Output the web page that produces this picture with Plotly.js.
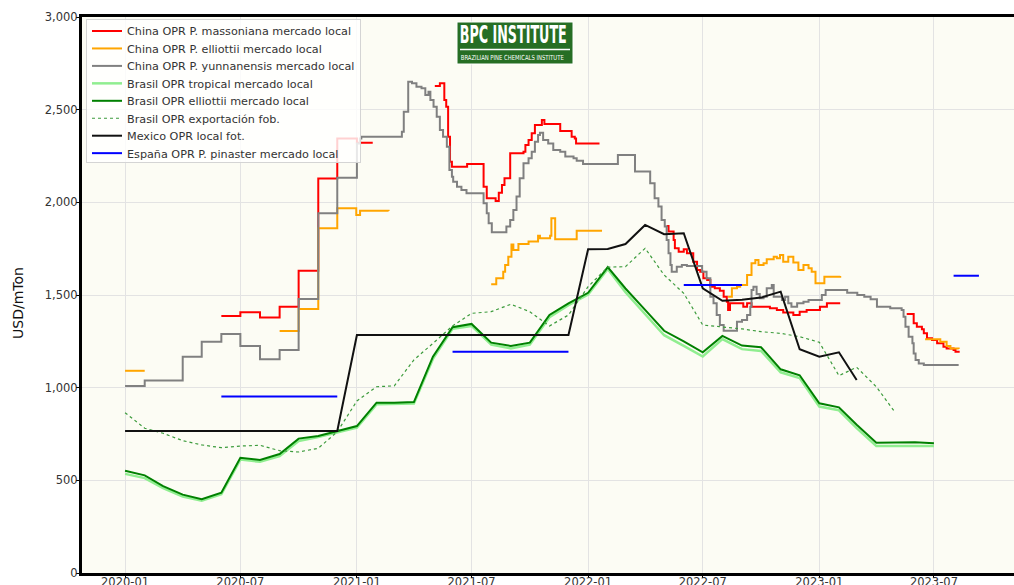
<!DOCTYPE html>
<html>
<head>
<meta charset="utf-8">
<script src="https://cdn.plot.ly/plotly-3.0.1.min.js"></script>
<style>
html,body{margin:0;padding:0;overflow:hidden;background:#fff;}
#chart{width:1022px;height:585px;}
</style>
</head>
<body>
<div id="chart"></div>
<script>
// ---------- DATA ----------
const brMonths = [
 '2020-01-01','2020-02-01','2020-03-01','2020-04-01','2020-05-01','2020-06-01','2020-07-01','2020-08-01','2020-09-01','2020-10-01','2020-11-01','2020-12-01',
 '2021-01-01','2021-02-01','2021-03-01','2021-04-01','2021-05-01','2021-06-01','2021-07-01','2021-08-01','2021-09-01','2021-10-01','2021-11-01','2021-12-01',
 '2022-01-01','2022-02-01','2022-03-01','2022-04-01','2022-05-01','2022-06-01','2022-07-01','2022-08-01','2022-09-01','2022-10-01','2022-11-01','2022-12-01',
 '2023-01-01','2023-02-01','2023-03-01','2023-04-01','2023-05-01','2023-06-01','2023-07-01'];

const brasilTropical = [535,512,458,413,390,425,612,600,630,712,733,760,
 785,910,910,914,1155,1318,1333,1232,1212,1232,1380,1445,
 1502,1640,1515,1395,1283,1225,1168,1262,1208,1198,1083,1052,
 898,878,782,685,685,685,685];

const brasilElliottii = [552,527,469,423,398,433,622,610,642,725,739,766,
 793,919,918,922,1167,1326,1344,1243,1225,1243,1392,1455,
 1512,1650,1535,1420,1307,1250,1191,1279,1227,1218,1099,1067,
 916,894,800,703,703,705,700];

const exportMonths = brMonths.slice(0, 41);
const brasilExport = [865,781,754,714,691,676,685,689,660,653,673,762,
 928,1005,1010,1150,1239,1333,1401,1410,1450,1410,1333,1392,
 1545,1650,1653,1752,1608,1509,1338,1329,1317,1302,1293,1275,
 1245,1065,1110,1005,865];

const mexicoDates = ['2020-01-01','2020-12-01','2021-01-01','2021-12-01','2022-01-01','2022-02-01','2022-03-01','2022-04-01','2022-05-01','2022-06-01','2022-07-01','2022-08-01','2022-09-01','2022-10-01','2022-11-01','2022-12-01','2023-01-01','2023-02-01','2023-03-01'];
const mexicoValues = [766,766,1284,1284,1747,1748,1775,1878,1828,1833,1536,1469,1475,1486,1518,1207,1167,1191,1041];

const espanaDates = ['2020-06-01','2020-12-01','2021-03-01','2021-06-01','2021-12-01','2022-03-01','2022-06-01','2022-09-01','2023-01-01','2023-08-01','2023-09-10'];
const espanaValues = [953,953,null,1194,1194,null,1554,1554,null,1604,1604];

const massonianaDates = ['2020-06-01','2020-07-01','2020-08-01','2020-09-01','2020-10-01','2020-11-01','2020-12-01','2021-01-01','2021-01-26','2021-03-01',
 '2021-05-04','2021-05-12','2021-05-19','2021-05-22','2021-05-25','2021-05-28','2021-05-31','2021-06-24','2021-07-20','2021-07-25','2021-08-08','2021-08-13','2021-08-18','2021-08-22','2021-08-31','2021-09-21','2021-09-24','2021-09-29','2021-10-04','2021-10-09','2021-10-20','2021-10-24','2021-11-18','2021-12-06','2021-12-11','2021-12-13','2022-01-19','2022-03-01',
 '2022-05-05','2022-05-08','2022-05-16','2022-05-18','2022-05-24','2022-06-01','2022-06-06','2022-06-16','2022-06-22','2022-06-27','2022-07-02','2022-07-08','2022-07-13','2022-07-20','2022-07-28','2022-08-03','2022-08-08','2022-08-10','2022-08-13','2022-09-03','2022-09-09','2022-09-16','2022-10-15','2022-10-26','2022-11-05','2022-11-21','2022-12-01','2022-12-12','2023-01-02','2023-01-13','2023-02-03','2023-04-01',
 '2023-05-19','2023-05-30','2023-06-04','2023-06-12','2023-06-15','2023-06-20','2023-06-28','2023-07-06','2023-07-16','2023-07-21','2023-08-01','2023-08-04','2023-08-09'];
const massonianaValues = [1387,1407,1378,1437,1631,2128,2345,2322,2322,null,
 2628,2642,2552,2516,2354,2219,2192,2207,2084,2022,2007,2052,2094,2130,2265,2273,2310,2336,2373,2417,2444,2423,2385,2354,2345,2318,2318,null,
 1872,1842,1797,1752,1734,1747,1725,1680,1635,1626,1590,1581,1545,1536,1523,1491,1464,1419,1455,1437,1455,1437,1428,1419,1405,1392,1410,1419,1437,1455,1455,null,
 1398,1347,1329,1315,1293,1266,1257,1239,1221,1212,1203,1194,1189];

const elliottiiCnDates = ['2020-01-01','2020-02-01','2020-05-01',
 '2020-09-01','2020-10-01','2020-11-01','2020-12-01','2020-12-31','2021-01-06','2021-02-20','2021-05-01',
 '2021-08-01','2021-08-09','2021-08-20','2021-08-23','2021-08-28','2021-09-02','2021-09-05','2021-09-13','2021-09-29','2021-10-14','2021-10-17','2021-11-02','2021-11-04','2021-11-10','2021-12-14','2022-01-23','2022-04-01',
 '2022-08-10','2022-08-16','2022-08-24','2022-08-29','2022-09-09','2022-09-16','2022-09-22','2022-09-27','2022-10-05','2022-10-10','2022-10-21','2022-10-26','2022-10-31','2022-11-05','2022-11-13','2022-11-21','2022-11-29','2022-12-07','2022-12-15','2022-12-20','2022-12-26','2023-01-09','2023-02-03','2023-04-01',
 '2023-06-17','2023-07-11','2023-07-21','2023-07-27','2023-08-09'];
const elliottiiCnValues = [1091,1091,null,
 1306,1425,1860,1968,1932,1955,1953,null,
 1558,1590,1626,1662,1707,1773,1743,1775,1788,1820,1806,1820,1914,1801,1847,1847,null,
 1491,1536,1545,1554,1608,1671,1689,1662,1671,1693,1707,1698,1716,1680,1707,1675,1635,1662,1644,1626,1563,1599,1603,null,
 1261,1248,1225,1212,1209];

const yunnanensisDates = ['2020-01-01','2020-02-01','2020-04-01','2020-05-01','2020-06-01','2020-07-01','2020-08-01','2020-09-01','2020-10-01','2020-11-01','2020-12-01',
 '2021-01-01','2021-01-06','2021-01-08','2021-03-13','2021-03-16','2021-03-23','2021-03-29','2021-04-05','2021-04-13','2021-04-19','2021-04-24','2021-04-27','2021-05-02','2021-05-07','2021-05-12','2021-05-17','2021-05-23','2021-05-27','2021-05-31','2021-06-02','2021-06-08','2021-06-15','2021-06-23','2021-07-20','2021-07-25','2021-07-28','2021-08-02','2021-08-25','2021-08-31','2021-09-05','2021-09-10','2021-09-15','2021-09-21','2021-09-29','2021-10-04','2021-10-09','2021-10-14','2021-10-17','2021-10-22','2021-10-30','2021-11-07','2021-11-18','2021-11-26','2021-12-09','2021-12-14','2021-12-24',
 '2022-02-17','2022-03-16','2022-04-09','2022-04-16','2022-04-22','2022-04-27','2022-05-02','2022-05-05','2022-05-08','2022-05-11','2022-05-13','2022-05-21','2022-05-29','2022-06-06','2022-06-30','2022-07-07','2022-07-13','2022-07-18','2022-07-23','2022-07-28','2022-08-03','2022-08-24','2022-09-01','2022-09-09','2022-09-14','2022-09-16','2022-09-19','2022-09-24','2022-09-29','2022-10-05','2022-10-10','2022-10-18','2022-10-21','2022-11-03','2022-11-08','2022-11-13','2022-11-18','2022-11-27','2022-12-07','2022-12-15',
 '2023-01-05','2023-01-11','2023-02-14','2023-03-02','2023-03-13','2023-03-23','2023-04-02','2023-04-23','2023-05-11','2023-05-14','2023-05-17','2023-05-22','2023-05-28','2023-05-30','2023-06-02','2023-06-07','2023-06-15','2023-08-09'];
const yunnanensisValues = [1009,1038,1167,1248,1290,1225,1153,1203,1478,1941,2133,
 2318,2345,2354,2381,2489,2651,2642,2624,2615,2579,2597,2552,2516,2462,2390,2354,2300,2175,2138,2111,2084,2067,2049,1995,1941,1887,1838,1869,1905,1959,2031,2130,2211,2238,2273,2327,2363,2376,2336,2318,2282,2273,2247,2238,2225,2207,
 2256,2166,2103,2022,1977,1905,1869,1797,1725,1662,1626,1653,1662,1657,1626,1590,1491,1455,1392,1338,1307,1356,1365,1392,1437,1527,1545,1505,1482,1491,1536,1554,1491,1473,1491,1455,1437,1455,1464,1473,
 1500,1527,1512,1500,1491,1477,1437,1428,1419,1383,1329,1275,1239,1185,1149,1131,1122,1122];

const seriesNames = ['China OPR P. massoniana mercado local','China OPR P. elliottii mercado local','China OPR P. yunnanensis mercado local',
 'Brasil OPR tropical mercado local','Brasil OPR elliottii mercado local','Brasil OPR exportación fob.','Mexico OPR local fot.','España OPR P. pinaster mercado local'];

const logoTitle = 'BPC INSTITUTE';
const logoSubtitle = 'BRAZILIAN PINE CHEMICALS INSTITUTE';

// ---------- CHART ----------
const traces = [
 {x: massonianaDates, y: massonianaValues, name: seriesNames[0], mode:'lines', line:{color:'#ff0000', width:2, shape:'hv'}},
 {x: elliottiiCnDates, y: elliottiiCnValues, name: seriesNames[1], mode:'lines', line:{color:'#ffa500', width:2, shape:'hv'}},
 {x: yunnanensisDates, y: yunnanensisValues, name: seriesNames[2], mode:'lines', line:{color:'#808080', width:2, shape:'hv'}},
 {x: brMonths, y: brasilTropical, name: seriesNames[3], mode:'lines', line:{color:'#90ee90', width:2.5}},
 {x: brMonths, y: brasilElliottii, name: seriesNames[4], mode:'lines', line:{color:'#008000', width:2}},
 {x: exportMonths, y: brasilExport, name: seriesNames[5], mode:'lines', line:{color:'#3c9b3c', width:1.2, dash:'dot'}},
 {x: mexicoDates, y: mexicoValues, name: seriesNames[6], mode:'lines', line:{color:'#111111', width:2}},
 {x: espanaDates, y: espanaValues, name: seriesNames[7], mode:'lines', line:{color:'#0000ff', width:2}, connectgaps:false}
];

const W = 940, H = 556, L = 82, T = 17;
const px = v => (v - L) / W;
const py = v => (T + H - v) / H;

const layout = {
  width: 1022, height: 585,
  margin: {l: L, r: 0, t: T, b: 12},
  paper_bgcolor: '#ffffff',
  plot_bgcolor: '#fcfcf4',
  font: {family: 'DejaVu Sans, sans-serif', color: '#333', size: 11},
  showlegend: true,
  legend: {x: px(86), y: py(19), xanchor: 'left', yanchor: 'top',
    bgcolor: 'rgba(255,255,255,0.82)', bordercolor: '#d4d4d4', borderwidth: 1,
    font: {size: 11.2, color: '#333'}, tracegroupgap: 0, itemwidth: 30},
  xaxis: {type: 'date', range: ['2019-10-25', '2023-11-17'], dtick: 'M6', tick0: '2020-01-01',
    tickformat: '%Y-%m', showgrid: true, gridcolor: '#e3e3e3', gridwidth: 1,
    showline: true, linecolor: '#000', linewidth: 3, mirror: true,
    ticks: 'outside', ticklen: 2, tickcolor: '#000', automargin: false, zeroline: false,
    ticklabelstandoff: -6, tickfont: {size: 11.5}},
  yaxis: {range: [0, 3000], dtick: 500, tickformat: ',d', showgrid: true, gridcolor: '#e3e3e3', gridwidth: 1,
    showline: true, linecolor: '#000', linewidth: 3, mirror: true,
    ticks: 'outside', ticklen: 3, tickcolor: '#000', automargin: false, zeroline: false,
    ticklabelstandoff: -4, tickfont: {size: 11.5}},
  shapes: [
    {type:'rect', xref:'paper', yref:'paper', x0: px(457), x1: px(573), y0: py(64), y1: py(22),
     fillcolor:'#266e24', line:{color:'#ffffff', width:1}, layer:'above'},
    {type:'line', xref:'paper', yref:'paper', x0: px(460), x1: px(570), y0: py(49.5), y1: py(49.5),
     line:{color:'#ffffff', width:1.5}, layer:'above'}
  ],
  annotations: [
    {text:'USD/mTon', xref:'paper', yref:'paper', x: px(18), y: py(303), textangle:-90,
     showarrow:false, font:{size:14, color:'#111'}, xanchor:'center', yanchor:'middle'},
    {text: logoTitle, xref:'paper', yref:'paper', x: px(513), y: py(34),
     showarrow:false, font:{size:25, color:'#ffffff', family:'DejaVu Sans, sans-serif', weight: 'bold'},
     xanchor:'center', yanchor:'middle'},
    {text: logoSubtitle, xref:'paper', yref:'paper', x: px(512), y: py(58.5),
     showarrow:false, font:{size:7, color:'#ffffff', family:'DejaVu Sans, sans-serif'},
     xanchor:'center', yanchor:'middle'}
  ]
};

function squeezeText(label, width) {
  document.querySelectorAll('#chart .annotation-text').forEach(el => {
    if (el.textContent === label) {
      el.setAttribute('textLength', width);
      el.setAttribute('lengthAdjust', 'spacingAndGlyphs');
    }
  });
}

// tighten legend rows to the reference spacing
function tightenLegend(rowGap, shiftUp) {
  const leg = document.querySelector('#chart .legend');
  if (!leg) return;
  const items = Array.from(leg.querySelectorAll('.traces'));
  if (!items.length) return;
  const parse = g => {
    const m = /translate\(\s*([-\d.]+)[ ,]+([-\d.]+)\s*\)/.exec(g.getAttribute('transform') || '');
    return m ? [parseFloat(m[1]), parseFloat(m[2])] : [0, 0];
  };
  const first = parse(items[0]);
  const lastOrig = parse(items[items.length - 1])[1];
  items.forEach((g, i) => {
    const p = parse(g);
    g.setAttribute('transform', 'translate(' + p[0] + ',' + (first[1] - shiftUp + i * rowGap) + ')');
  });
  const newLast = first[1] - shiftUp + (items.length - 1) * rowGap;
  const bg = leg.querySelector('rect.bg');
  if (bg) {
    const h = parseFloat(bg.getAttribute('height'));
    bg.setAttribute('height', h - (lastOrig - newLast) - shiftUp - 2);
  }
  leg.querySelectorAll('clipPath rect').forEach(r => {
    const h = parseFloat(r.getAttribute('height'));
    if (h) r.setAttribute('height', h + 20);
  });
}

Plotly.newPlot('chart', traces, layout, {displayModeBar: false, staticPlot: true}).then(() => {
  squeezeText(logoTitle, 107);
  squeezeText(logoSubtitle, 103);
  tightenLegend(17.45, 3.5);
});
</script>
</body>
</html>
